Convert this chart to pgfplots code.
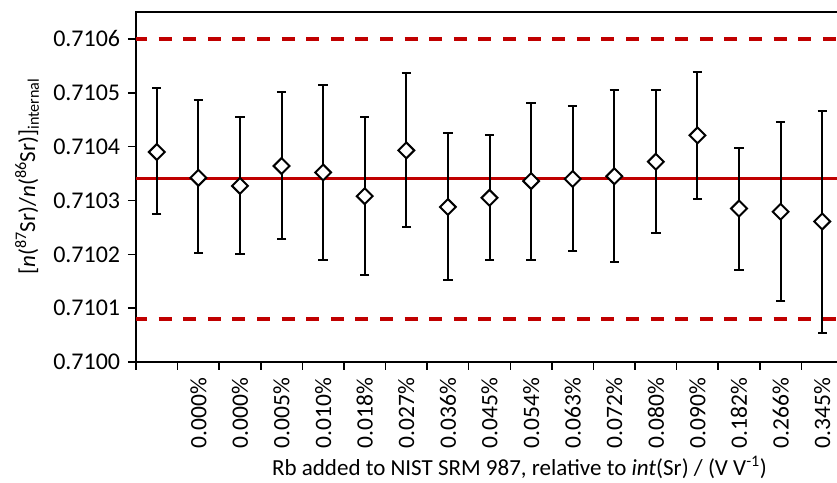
\documentclass[border=0pt]{standalone}
\usepackage{pgfplots}
\pgfplotsset{compat=1.18}
\usepackage{fontspec}
\setmainfont{Carlito}
\definecolor{exred}{HTML}{C00000}
\begin{document}
\fontsize{23}{27}\selectfont
\begin{tikzpicture}
\begin{axis}[
  at={(0pt,0pt)}, anchor=south west,
  scale only axis, width=707pt, height=350pt,
  xmin=0.5, xmax=17.5,
  ymin=0.7100, ymax=0.71065,
  xtick={0.5,1.5,...,17.5},
  x tick label as interval,
  xticklabels={,0.000\%,0.000\%,0.005\%,0.010\%,0.018\%,0.027\%,0.036\%,0.045\%,0.054\%,0.063\%,0.072\%,0.080\%,0.090\%,0.182\%,0.266\%,0.345\%},
  xticklabel style={rotate=90, anchor=east, font=\fontsize{23.5}{27}\selectfont},
  ytick={0.7100,0.7101,0.7102,0.7103,0.7104,0.7105,0.7106},
  scaled y ticks=false,
  yticklabel style={/pgf/number format/fixed, /pgf/number format/fixed zerofill, /pgf/number format/precision=4, /pgf/number format/assume math mode=true, font=\fontsize{24}{27}\selectfont},
  tick pos=left,
  tick align=outside,
  major tick length=8pt,
  tick style={black, line width=1.5pt},
  axis line style={black, line width=1.5pt},
  clip=false,
  xlabel={Rb added to NIST SRM 987, relative to \textit{int}(Sr) / (V V\textsuperscript{-1})},
  xlabel style={at={(axis description cs:0.5,0)}, anchor=center, yshift=-105pt, xshift=30pt, font=\fontsize{23}{27}\selectfont},
  ylabel={[\textit{n}(\textsuperscript{87}Sr)/\textit{n}(\textsuperscript{86}Sr)]\textsubscript{internal}},
  ylabel style={at={(axis description cs:0,0.53)}, anchor=center, yshift=109pt, font=\fontsize{23}{27}\selectfont},
]
\addplot[exred, line width=3pt, forget plot] coordinates {(0.5,0.71034) (17.5,0.71034)};
\addplot[exred, line width=3.5pt, dash pattern=on 13pt off 11.6pt, dash phase=2pt, forget plot] coordinates {(0.5,0.7106) (17.5,0.7106)};
\addplot[exred, line width=3.5pt, dash pattern=on 13pt off 11.6pt, dash phase=2pt, forget plot] coordinates {(0.5,0.71008) (17.5,0.71008)};
\addplot[only marks, mark=square*, mark size=5.6pt,
  mark options={rotate=45, fill=white, draw=black, line width=2pt},
  error bars/.cd, y dir=both, y explicit,
  error bar style={black, line width=2pt},
  error mark=-, error mark options={rotate=90, mark size=4.7pt, line width=2pt, black}]
table[x=x, y=y, y error plus=ep, y error minus=em] {
x y ep em
1  0.710390 0.000118 0.000116
2  0.710342 0.000145 0.000140
3  0.710327 0.000128 0.000127
4  0.710364 0.000138 0.000135
5  0.710352 0.000162 0.000162
6  0.710308 0.000147 0.000147
7  0.710393 0.000144 0.000142
8  0.710288 0.000138 0.000136
9  0.710305 0.000116 0.000115
10 0.710336 0.000145 0.000146
11 0.710340 0.000135 0.000133
12 0.710345 0.000160 0.000160
13 0.710372 0.000134 0.000133
14 0.710421 0.000118 0.000118
15 0.710285 0.000113 0.000115
16 0.710279 0.000166 0.000165
17 0.710261 0.000206 0.000207
};
\end{axis}
\pgfresetboundingbox
\useasboundingbox (-136pt,-120pt) rectangle (701pt,362pt);
\end{tikzpicture}
\end{document}
